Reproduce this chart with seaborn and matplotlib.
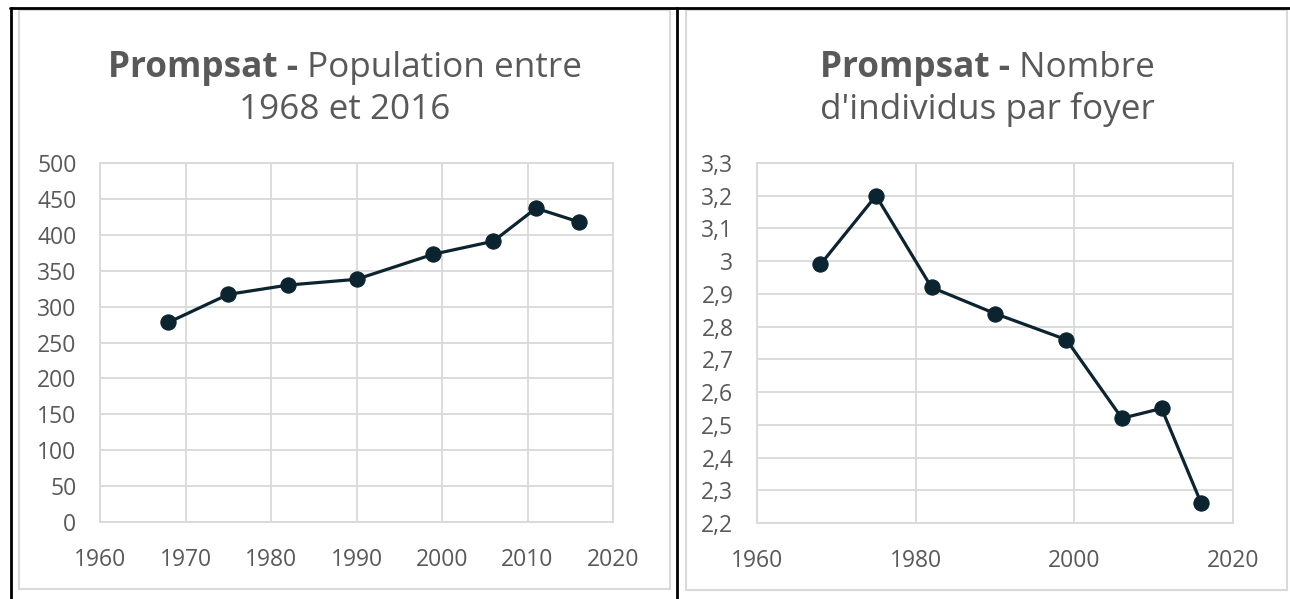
import matplotlib
matplotlib.use('Agg')
import matplotlib.pyplot as plt
import seaborn as sns
import pandas as pd
from matplotlib.ticker import FuncFormatter, MultipleLocator
from matplotlib.patches import Rectangle
from matplotlib.lines import Line2D

# ---- data ----
years = [1968, 1975, 1982, 1990, 1999, 2006, 2011, 2016]
population = [278, 317, 330, 338, 373, 391, 437, 418]
persons_per_household = [2.99, 3.20, 2.92, 2.84, 2.76, 2.52, 2.55, 2.26]

title_bold = "Prompsat -"
left_title_line1 = " Population entre"
left_title_line2 = "1968 et 2016"
right_title_line1 = " Nombre"
right_title_line2 = "d'individus par foyer"

# ---- style ----
sns.set_theme(style="white")
plt.rcParams['font.family'] = ['Open Sans', 'DejaVu Sans']

W, H = 1290, 599
DPI = 100
fig = plt.figure(figsize=(W / DPI, H / DPI), dpi=DPI)
fig.patch.set_facecolor('white')

LINE_COLOR = '#0c2430'
GRID = '#d9d9d9'
TXT = '#595959'


def fx(x):
    return x / W


def fy(y):
    return 1 - y / H


def add_axes_px(x0, y0, x1, y1):
    return fig.add_axes([fx(x0), fy(y1), (x1 - x0) / W, (y1 - y0) / H])


# panel borders (light gray)
for (x0, y0, x1, y1) in [(19, 10, 670, 589), (686, 10, 1287, 590)]:
    fig.add_artist(Rectangle((fx(x0), fy(y1)), (x1 - x0) / W, (y1 - y0) / H,
                             transform=fig.transFigure, fill=False,
                             edgecolor=GRID, linewidth=1.5))

# outer black table lines
for xs, ys in [((10, 1290), (8, 8)), ((11, 11), (8, 599)), ((677, 677), (8, 599))]:
    fig.add_artist(Line2D([fx(xs[0]), fx(xs[1])], [fy(ys[0]), fy(ys[1])],
                          transform=fig.transFigure, color='black', linewidth=2))


def style_axes(ax):
    ax.set_facecolor('white')
    ax.grid(True, color=GRID, linewidth=1.3)
    ax.set_axisbelow(True)
    for s in ax.spines.values():
        s.set_color(GRID)
        s.set_linewidth(1.3)
    ax.tick_params(axis='both', length=0, labelsize=16.5, labelcolor=TXT)
    ax.tick_params(axis='y', pad=17)
    ax.tick_params(axis='x', pad=19)
    ax.set_xlabel('')
    ax.set_ylabel('')


# ---- left chart ----
ax1 = add_axes_px(100, 163, 613, 522)
df1 = pd.DataFrame({'year': years, 'value': population})
sns.lineplot(data=df1, x='year', y='value', ax=ax1, color=LINE_COLOR,
             linewidth=2.3, marker='o', markersize=11,
             markeredgecolor=LINE_COLOR, markerfacecolor=LINE_COLOR)
ax1.set_xlim(1960, 2020)
ax1.set_ylim(0, 500)
ax1.xaxis.set_major_locator(MultipleLocator(10))
ax1.yaxis.set_major_locator(MultipleLocator(50))
ax1.xaxis.set_major_formatter(FuncFormatter(lambda v, p: f"{int(round(v))}"))
ax1.yaxis.set_major_formatter(FuncFormatter(lambda v, p: f"{int(round(v))}"))
style_axes(ax1)

# ---- right chart ----
ax2 = add_axes_px(757, 163, 1233, 523)
df2 = pd.DataFrame({'year': years, 'value': persons_per_household})
sns.lineplot(data=df2, x='year', y='value', ax=ax2, color=LINE_COLOR,
             linewidth=2.3, marker='o', markersize=11,
             markeredgecolor=LINE_COLOR, markerfacecolor=LINE_COLOR)
ax2.set_xlim(1960, 2020)
ax2.set_ylim(2.2, 3.3)
ax2.xaxis.set_major_locator(MultipleLocator(20))
ax2.yaxis.set_major_locator(MultipleLocator(0.1))


def comma_fmt(v, p):
    s = f"{v:.1f}"
    if s.endswith('.0'):
        s = s[:-2]
    return s.replace('.', ',')


ax2.xaxis.set_major_formatter(FuncFormatter(lambda v, p: f"{int(round(v))}"))
ax2.yaxis.set_major_formatter(FuncFormatter(comma_fmt))
style_axes(ax2)

# ---- titles (mixed bold / regular) ----
fig.canvas.draw()
renderer = fig.canvas.get_renderer()
TITLE_SIZE = 25.3


def mixed_title(cx, base1, base2, bold, rest, line2):
    tb = fig.text(0, fy(base1), bold, fontsize=TITLE_SIZE, fontweight='bold',
                  color=TXT, ha='left', va='baseline')
    tr = fig.text(0, fy(base1), rest, fontsize=TITLE_SIZE, color=TXT,
                  ha='left', va='baseline')
    wb = tb.get_window_extent(renderer).width
    wr = tr.get_window_extent(renderer).width
    start = cx - (wb + wr) / 2
    tb.set_x(fx(start))
    tr.set_x(fx(start + wb))
    fig.text(fx(cx), fy(base2), line2, fontsize=TITLE_SIZE, color=TXT,
             ha='center', va='baseline')


mixed_title(344.5, 77, 119, title_bold, left_title_line1, left_title_line2)
mixed_title(987, 77, 119, title_bold, right_title_line1, right_title_line2)

fig.savefig('out.png', dpi=DPI, facecolor='white')
